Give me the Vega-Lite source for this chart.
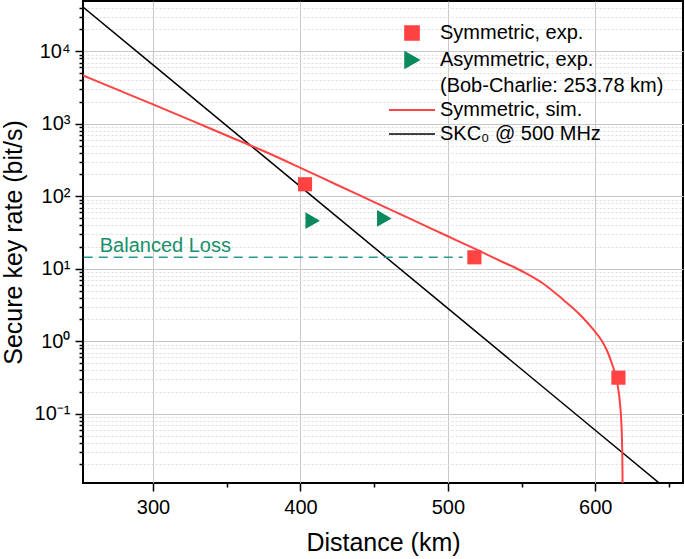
{
  "$schema": "https://vega.github.io/schema/vega-lite/v6.json",
  "width": 600,
  "height": 482,
  "autosize": {"type": "none"},
  "padding": {"left": 83, "top": 1, "right": 2, "bottom": 76},
  "background": "white",
  "config": {
    "font": "Liberation Sans",
    "view": {"stroke": "#000000", "strokeWidth": 2},
    "axis": {
      "domain": false,
      "tickColor": "#000000",
      "tickWidth": 1.5,
      "labelFont": "Liberation Sans",
      "labelFontSize": 20,
      "labelColor": "#000000",
      "titleFont": "Liberation Sans",
      "titleFontSize": 25,
      "titleFontWeight": "normal",
      "titleColor": "#000000",
      "gridWidth": 1
    },
    "legend": {
      "labelFont": "Liberation Sans",
      "labelFontSize": 20,
      "labelColor": "#000000",
      "labelLimit": 0,
      "padding": 0
    }
  },
  "datasets": {
    "skc": [
      {"km": 252.5, "rate": 40800, "series": "SKC₀ @ 500 MHz"},
      {"km": 300, "rate": 6500, "series": "SKC₀ @ 500 MHz"},
      {"km": 400, "rate": 136, "series": "SKC₀ @ 500 MHz"},
      {"km": 500, "rate": 2.84, "series": "SKC₀ @ 500 MHz"},
      {"km": 600, "rate": 0.0593, "series": "SKC₀ @ 500 MHz"},
      {"km": 660, "rate": 0.00582, "series": "SKC₀ @ 500 MHz"}
    ],
    "sim": [
      {"km": 252.5, "rate": 4656, "series": "Symmetric, sim."},
      {"km": 275, "rate": 3006, "series": "Symmetric, sim."},
      {"km": 300, "rate": 1849, "series": "Symmetric, sim."},
      {"km": 325, "rate": 1132, "series": "Symmetric, sim."},
      {"km": 350, "rate": 690, "series": "Symmetric, sim."},
      {"km": 375, "rate": 421, "series": "Symmetric, sim."},
      {"km": 400, "rate": 247, "series": "Symmetric, sim."},
      {"km": 425, "rate": 143, "series": "Symmetric, sim."},
      {"km": 450, "rate": 83.2, "series": "Symmetric, sim."},
      {"km": 475, "rate": 48.3, "series": "Symmetric, sim."},
      {"km": 500, "rate": 28.1, "series": "Symmetric, sim."},
      {"km": 520, "rate": 18.2, "series": "Symmetric, sim."},
      {"km": 535, "rate": 13.0, "series": "Symmetric, sim."},
      {"km": 545, "rate": 10.5, "series": "Symmetric, sim."},
      {"km": 555, "rate": 8.22, "series": "Symmetric, sim."},
      {"km": 565, "rate": 6.17, "series": "Symmetric, sim."},
      {"km": 578.4, "rate": 3.72, "series": "Symmetric, sim."},
      {"km": 590, "rate": 2.29, "series": "Symmetric, sim."},
      {"km": 598.3, "rate": 1.48, "series": "Symmetric, sim."},
      {"km": 604, "rate": 1.047, "series": "Symmetric, sim."},
      {"km": 608, "rate": 0.741, "series": "Symmetric, sim."},
      {"km": 611, "rate": 0.513, "series": "Symmetric, sim."},
      {"km": 613.5, "rate": 0.355, "series": "Symmetric, sim."},
      {"km": 615.3, "rate": 0.24, "series": "Symmetric, sim."},
      {"km": 616.6, "rate": 0.151, "series": "Symmetric, sim."},
      {"km": 617.5, "rate": 0.0891, "series": "Symmetric, sim."},
      {"km": 618.1, "rate": 0.0447, "series": "Symmetric, sim."},
      {"km": 618.4, "rate": 0.02, "series": "Symmetric, sim."},
      {"km": 618.55, "rate": 0.0079, "series": "Symmetric, sim."},
      {"km": 618.6, "rate": 0.004, "series": "Symmetric, sim."}
    ],
    "sym": [
      {"km": 403.1, "rate": 146.5, "series": "Symmetric, exp."},
      {"km": 518, "rate": 14.4, "series": "Symmetric, exp."},
      {"km": 615.7, "rate": 0.315, "series": "Symmetric, exp."}
    ],
    "asym": [
      {"km": 408.3, "rate": 46.1, "series": "Asymmetric, exp."},
      {"km": 456.9, "rate": 49.5, "series": "Asymmetric, exp."}
    ],
    "balanced": [
      {"km": 253, "km_end": 510, "rate": 14.4, "label": "Balanced Loss"}
    ]
  },
  "encoding": {
    "x": {
      "field": "km",
      "type": "quantitative",
      "scale": {"domain": [252.5, 659.5], "nice": false, "zero": false},
      "axis": {
        "title": "Distance (km)",
        "values": [300, 350, 400, 450, 500, 550, 600, 650],
        "labelExpr": "datum.value % 100 == 0 ? datum.label : ''",
        "labelPadding": 6,
        "titlePadding": 13,
        "tickSize": {"condition": {"test": "datum.value % 100 == 0", "value": 8}, "value": 4},
        "gridColor": "#c8c8c8",
        "gridOpacity": {"condition": {"test": "datum.value % 100 == 0", "value": 1}, "value": 0}
      }
    },
    "y": {
      "field": "rate",
      "type": "quantitative",
      "scale": {"type": "log", "domain": [0.0111, 49400], "nice": false},
      "axis": {
        "title": "Secure key rate (bit/s)",
        "values": [0.02, 0.03, 0.04, 0.05, 0.06, 0.07, 0.08, 0.09, 0.1, 0.2, 0.3, 0.4, 0.5, 0.6, 0.7, 0.8, 0.9, 1, 2, 3, 4, 5, 6, 7, 8, 9, 10, 20, 30, 40, 50, 60, 70, 80, 90, 100, 200, 300, 400, 500, 600, 700, 800, 900, 1000, 2000, 3000, 4000, 5000, 6000, 7000, 8000, 9000, 10000, 20000, 30000, 40000],
        "labelExpr": "datum.value == 0.1 ? '10⁻¹' : datum.value == 1 ? '10⁰' : datum.value == 10 ? '10¹' : datum.value == 100 ? '10²' : datum.value == 1000 ? '10³' : datum.value == 10000 ? '10⁴' : ''",
        "labelPadding": 5,
        "titlePadding": 8,
        "tickSize": {"condition": {"test": "indexof([0.1, 1, 10, 100, 1000, 10000], datum.value) >= 0", "value": 8}, "value": 4},
        "gridDash": {"condition": {"test": "indexof([0.1, 1, 10, 100, 1000, 10000], datum.value) >= 0", "value": []}, "value": [2, 2]},
        "gridColor": {"condition": {"test": "indexof([0.1, 1, 10, 100, 1000, 10000], datum.value) >= 0", "value": "#c8c8c8"}, "value": "#dcdcdc"}
      }
    }
  },
  "layer": [
    {
      "data": {"name": "skc"},
      "mark": {"type": "line", "strokeWidth": 1.5, "clip": true},
      "encoding": {
        "color": {
          "field": "series",
          "type": "nominal",
          "scale": {
            "domain": ["Symmetric, exp.", "Asymmetric, exp.", "(Bob-Charlie: 253.78 km)", "Symmetric, sim.", "SKC₀ @ 500 MHz"],
            "range": ["#ff4242", "#0a8a5c", "#ffffff", "#ff4242", "#000000"]
          },
          "legend": {
            "title": null,
            "orient": "none",
            "legendX": 319,
            "legendY": 22,
            "symbolSize": 200,
            "rowPadding": 4,
            "labelOffset": 18,
            "labelLimit": 0,
            "encode": {
              "symbols": {
                "update": {
                  "shape": {"signal": "datum.value == 'Symmetric, exp.' ? 'square' : datum.value == 'Asymmetric, exp.' ? 'triangle-right' : 'stroke'"},
                  "size": {"signal": "datum.value == 'Symmetric, sim.' || datum.value == 'SKC₀ @ 500 MHz' ? 2116 : datum.value == 'Asymmetric, exp.' ? 260 : 200"},
                  "fill": {"signal": "datum.value == 'Symmetric, exp.' ? '#ff4242' : datum.value == 'Asymmetric, exp.' ? '#0a8a5c' : 'transparent'"},
                  "stroke": {"signal": "datum.value == 'Symmetric, sim.' ? '#ff4242' : datum.value == 'SKC₀ @ 500 MHz' ? '#000000' : 'transparent'"},
                  "strokeWidth": {"signal": "datum.value == 'Symmetric, sim.' ? 2 : 1.5"},
                  "opacity": {"signal": "datum.value == '(Bob-Charlie: 253.78 km)' ? 0 : 1"}
                }
              }
            }
          }
        }
      }
    },
    {
      "data": {"name": "sim"},
      "mark": {"type": "line", "strokeWidth": 2, "interpolate": "monotone", "clip": true},
      "encoding": {
        "color": {"field": "series", "type": "nominal"}
      }
    },
    {
      "data": {"name": "balanced"},
      "mark": {"type": "rule", "color": "#2a9a8f", "strokeWidth": 1.5, "strokeDash": [9, 6]},
      "encoding": {
        "x2": {"field": "km_end"}
      }
    },
    {
      "data": {"name": "balanced"},
      "mark": {"type": "text", "align": "left", "baseline": "alphabetic", "dx": 16, "dy": -5, "fontSize": 20, "font": "Liberation Sans", "color": "#17906a"},
      "encoding": {
        "text": {"field": "label"}
      }
    },
    {
      "data": {"name": "sym"},
      "mark": {"type": "point", "shape": "square", "filled": true, "opacity": 1, "size": 200},
      "encoding": {
        "color": {"field": "series", "type": "nominal"}
      }
    },
    {
      "data": {"name": "asym"},
      "mark": {"type": "point", "shape": "triangle-right", "filled": true, "opacity": 1, "size": 280},
      "encoding": {
        "color": {"field": "series", "type": "nominal"}
      }
    }
  ]
}
